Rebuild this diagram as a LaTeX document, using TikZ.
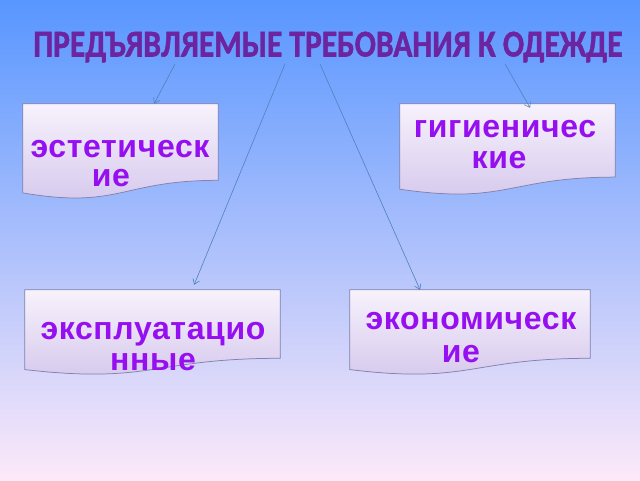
\documentclass[tikz,border=0pt]{standalone}
\usepackage{fontspec}
\setmainfont{Liberation Sans}
\newfontfamily\titlefont[FakeBold=1.4]{Carlito}
\newfontfamily\boxfont[LetterSpace=2]{Liberation Sans}
\usetikzlibrary{calc,arrows.meta}
\definecolor{bgtop}{RGB}{88,150,255}
\definecolor{bgmid}{RGB}{166,188,250}
\definecolor{bgbot}{RGB}{253,233,249}
\definecolor{boxtop}{RGB}{247,242,252}
\definecolor{boxbot}{RGB}{212,198,236}
\definecolor{boxline}{RGB}{130,132,175}
\definecolor{txtpurple}{RGB}{150,15,240}
\definecolor{titlepurple}{RGB}{108,36,160}
\definecolor{arrowblue}{RGB}{79,129,189}
\pgfdeclarelayer{bg}
\pgfdeclarelayer{boxes}
\pgfsetlayers{bg,boxes,main}
\tikzset{
  boxspot/.style={draw=none, inner sep=0pt, minimum width=#1},
  boxtext/.style={font=\boxfont\bfseries\fontsize{32}{#1}\selectfont, text=txtpurple, align=center, inner sep=0pt},
  conn/.style={draw=arrowblue, line width=0.6pt, -{Straight Barb[length=5pt,width=7pt]}},
}
\newcommand\docpath[1]{let \p1=(#1.north west), \p2=(#1.south east), \n1={\y1-\y2} in
  (\x1,\y1) -- (\x2,\y1) -- (\x2,{\y1-0.802*\n1})
  .. controls ({(\x1+\x2)/2},{\y1-0.802*\n1}) and ({(\x1+\x2)/2},{\y1-1.107*\n1}) .. (\x1,{\y1-0.934*\n1}) -- cycle}
\newcommand\docbox[1]{%
  \begin{pgfonlayer}{boxes}
    \fill[black,opacity=0.22,xshift=1.5pt,yshift=-2pt] \docpath{#1};
    \shade[top color=boxtop,bottom color=boxbot,draw=boxline,line width=0.75pt] \docpath{#1};
  \end{pgfonlayer}}
\begin{document}
\begin{tikzpicture}[x=1pt,y=-1pt]
\begin{pgfonlayer}{bg}
  \shade[top color=bgtop,middle color=bgmid,bottom color=bgbot] (0,0) rectangle (640,480);
\end{pgfonlayer}
\useasboundingbox (0,0) rectangle (640,480);

\node[font=\titlefont\bfseries\fontsize{36}{36}\selectfont, text=titlepurple, inner sep=0pt] (title) at (328,47)
  {\scalebox{0.875}[1.05]{ПРЕДЪЯВЛЯЕМЫЕ ТРЕБОВАНИЯ К ОДЕЖДЕ}};

\node[boxspot=195pt, minimum height=95pt] (b1) at (120.5,151.5) {};
\node[boxspot=215pt, minimum height=91pt] (b2) at (507.5,149.5) {};
\node[boxspot=255pt, minimum height=85pt] (b3) at (152.5,332.5) {};
\node[boxspot=240pt, minimum height=85pt] (b4) at (470,332.5) {};
\docbox{b1}\docbox{b2}\docbox{b3}\docbox{b4}

\node[boxtext=29] (t1) at (120,164) {эстетическ\\ие\hspace*{18pt}};
\node[boxtext=31] (t2) at (505,144.5) {гигиеничес\\кие\hspace*{12pt}};
\node[boxtext=31] (t3) at (153,347) {эксплуатацио\\нные};
\node[boxtext=33] (t4) at (471,338) {экономическ\\ие\hspace*{20pt}};

\coordinate (s1) at (175,64);
\coordinate (s2) at (285,64);
\coordinate (s3) at (320,64);
\coordinate (s4) at (505,64);
\draw[conn] (s1) -- ($(b1.north west)!0.672!(b1.north east)$);
\draw[conn] (s2) -- ($(b3.north west)!0.663!(b3.north east)+(0,-5)$);
\draw[conn] (s3) -- ($(b4.north west)!0.292!(b4.north east)$);
\draw[conn] (s4) -- ($(b2.north west)!0.605!(b2.north east)+(0,4)$);
\end{tikzpicture}
\end{document}
